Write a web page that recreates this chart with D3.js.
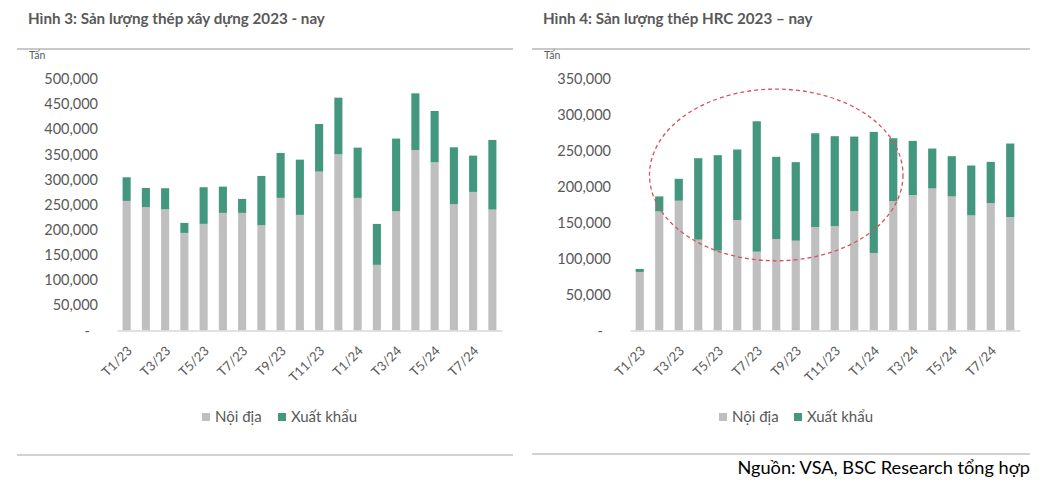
<!DOCTYPE html>
<html><head><meta charset="utf-8">
<script src="https://cdn.jsdelivr.net/npm/d3@7"></script>
<style>
body{margin:0;background:#fff;}
svg{display:block;font-family:Lato,"Open Sans",sans-serif;}
</style></head>
<body><svg id="c" width="1053" height="483"></svg>
<script>
const months = ["T1/23","T2/23","T3/23","T4/23","T5/23","T6/23","T7/23","T8/23","T9/23","T10/23","T11/23","T12/23","T1/24","T2/24","T3/24","T4/24","T5/24","T6/24","T7/24","T8/24"];
// Hình 3: thép xây dựng
const xdDomestic = [257600,245000,241000,194000,212000,233800,233800,209300,263600,229800,315900,350300,263600,130500,237100,358900,334400,251000,275500,240400];
const xdExport   = [47000,38400,41800,19900,72800,52200,27800,98000,89400,109900,94700,112600,100000,81400,144400,112600,102000,113200,72200,138400];
// Hình 4: thép HRC
const hrcDomestic = [81500,165700,180600,126400,111100,153700,109700,127300,125000,144000,145400,166200,107900,180100,188400,197700,186600,160200,177300,157900];
const hrcExport   = [4100,20900,30500,113400,132900,98200,181500,114400,109300,130500,125000,103700,168500,87500,75500,55500,56000,69400,57400,102300];
const seriesNames = ["Nội địa","Xuất khẩu"];
const xdTicks = [0,50000,100000,150000,200000,250000,300000,350000,400000,450000,500000];
const hrcTicks = [0,50000,100000,150000,200000,250000,300000,350000];
const titles = ["Hình 3: Sản lượng thép xây dựng 2023 - nay","Hình 4: Sản lượng thép HRC 2023 – nay"];
const unitLabel = "Tấn";
const sourceText = "Nguồn: VSA, BSC Research tổng hợp";
// annotation ellipse on HRC chart: from category index to index, value range
const ellipseCats = [1,13];
const ellipseVals = [97000,336000];

const colors = ["#bfbfbf","#43977f"];
const textGray = "#595959";
const svg = d3.select("#c");

function panel(o){
  const g = svg.append("g");
  g.append("text").attr("x",o.titleX).attr("y",24).attr("font-size",15.2).attr("font-weight","bold")
    .attr("fill",textGray).text(o.title);
  g.append("line").attr("x1",o.lineX0).attr("x2",o.lineX1).attr("y1",49).attr("y2",49)
    .attr("stroke","#c9c9c9").attr("stroke-width",2);
  g.append("text").attr("x",o.titleX+1).attr("y",59).attr("font-size",10.5).attr("fill",textGray).text(unitLabel);
  g.append("line").attr("x1",o.lineX0).attr("x2",o.lineX1).attr("y1",o.bottomY).attr("y2",o.bottomY)
    .attr("stroke","#a6a6a6").attr("stroke-width",1);

  const x = d3.scaleBand().domain(months).range([o.ax0,o.ax1]).paddingInner(0.58).paddingOuter(0.29);
  const y = d3.scaleLinear().domain([0,o.ticks[o.ticks.length-1]]).range([330.5,79]);

  const data = months.map((m,i)=>({m, d:o.dom[i], e:o.exp[i]}));
  const stack = d3.stack().keys(["d","e"])(data);
  g.selectAll("g.s").data(stack).join("g").attr("fill",(d,i)=>colors[i])
    .selectAll("rect").data(d=>d).join("rect")
    .attr("x",d=>x(d.data.m)).attr("width",x.bandwidth())
    .attr("y",d=>y(d[1])).attr("height",d=>y(d[0])-y(d[1]));

  // y axis labels
  const ya = g.append("g").attr("transform",`translate(${o.labelX},0)`)
    .call(d3.axisLeft(y).tickValues(o.ticks).tickSize(0).tickPadding(0)
      .tickFormat(v=>v===0?"-":d3.format(",")(v)));
  ya.select(".domain").remove();
  ya.selectAll("text").attr("font-family","Lato").attr("font-size",14.5).attr("fill",textGray)
    .attr("dx",v=>v===0?-8:0);

  // x axis
  const xa = g.append("g").attr("transform","translate(0,330.5)")
    .call(d3.axisBottom(x).tickValues(months.filter((m,i)=>i%2===0)).tickSize(0).tickSizeOuter(0));
  xa.select(".domain").attr("stroke","#d9d9d9").attr("stroke-width",1.5);
  xa.selectAll("text").attr("font-family","Lato").attr("font-size",13).attr("fill",textGray)
    .attr("text-anchor","end").attr("transform","translate(3,18) rotate(-45)").attr("y",0).attr("dy","0.35em");

  // legend
  const lg = g.append("g");
  o.legendX.forEach((lx,i)=>{
    lg.append("rect").attr("x",lx).attr("y",413).attr("width",8).attr("height",8).attr("fill",colors[i]);
    lg.append("text").attr("x",lx+13).attr("y",422).attr("font-size",15).attr("fill",textGray).text(seriesNames[i]);
  });
  return {g,x,y};
}

panel({title:titles[0],titleX:28,lineX0:17,lineX1:513,bottomY:455,ax0:117,ax1:502,labelX:98,
  ticks:xdTicks,dom:xdDomestic,exp:xdExport,legendX:[202,278]});
const p2 = panel({title:titles[1],titleX:543,lineX0:532,lineX1:1030,bottomY:454,ax0:630,ax1:1020,labelX:611,
  ticks:hrcTicks,dom:hrcDomestic,exp:hrcExport,legendX:[719,794]});

// ellipse annotation
{
  const {x,y,g} = p2;
  const step = x.step();
  const left = x(months[ellipseCats[0]]) + x.bandwidth()/2 - step/2;
  const right = x(months[ellipseCats[1]]) + x.bandwidth()/2 + step/2;
  const top = y(ellipseVals[1]), bot = y(ellipseVals[0]);
  g.append("ellipse").attr("cx",(left+right)/2).attr("cy",(top+bot)/2)
    .attr("rx",(right-left)/2).attr("ry",(bot-top)/2)
    .attr("fill","none").attr("stroke","#d9545a").attr("stroke-width",1.3).attr("stroke-dasharray","4,3");
}

svg.append("text").attr("x",1030).attr("y",474).attr("text-anchor","end").attr("font-size",18.2)
  .attr("fill","#000").text(sourceText);
</script></body></html>
